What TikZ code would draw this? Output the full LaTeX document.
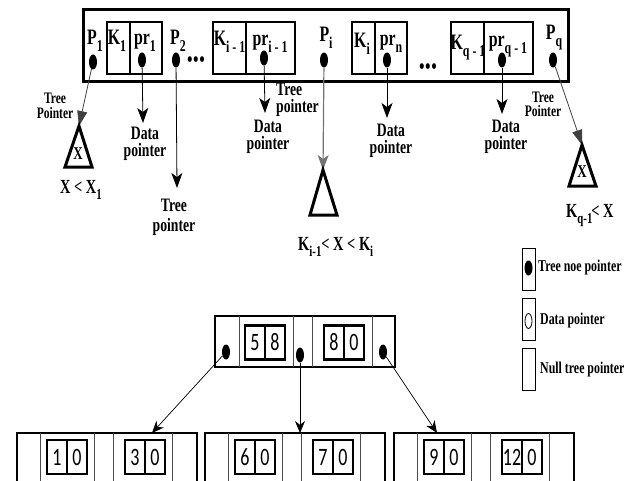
\documentclass[tikz,border=0pt]{standalone}
\usepackage{fontspec}
\setmainfont{Liberation Serif}[FakeStretch=0.72]
\newfontfamily\digitfont{Carlito}[FakeStretch=0.72]
\usetikzlibrary{positioning,arrows.meta,shapes.geometric}
\newcommand{\lowidx}[1]{\raisebox{-0.3em}{\scalebox{0.75}{#1}}}
\tikzset{
  nodeframe/.style={draw, line width=3pt, inner sep=0pt},
  keycell/.style={draw, line width=2.4pt, inner sep=0pt, minimum height=52pt},
  ptrdot/.style={ellipse, fill=black, inner sep=0pt, minimum width=8pt, minimum height=15pt},
  keylabel/.style={font=\fontsize{22}{24}\selectfont\bfseries, inner sep=0pt, anchor=base},
  notelabel/.style={font=\fontsize{19}{17}\selectfont\bfseries, align=center, inner sep=0pt},
  smalllabel/.style={font=\fontsize{16}{14.5}\selectfont\bfseries, align=center, inner sep=0pt},
  treelink/.style={draw=black!75, line width=0.8pt, -{Triangle[length=15pt,width=10pt]}},
  datalink/.style={line width=0.8pt, -{Stealth[length=15pt,width=11pt,inset=4pt]}},
  subtree/.style={line width=3pt, line join=miter},
  framebox/.style={draw, line width=2.5pt, inner sep=0pt},
  celldiv/.style={draw=black!70, line width=0.8pt},
  digitcell/.style={draw, line width=2.2pt, inner sep=0pt, minimum width=20pt, minimum height=34pt, font=\digitfont\fontsize{25}{25}\selectfont},
  legendbox/.style={draw, line width=1pt, inner sep=0pt, minimum width=13pt, minimum height=42pt},
  legendlabel/.style={font=\fontsize{16.5}{16.5}\selectfont\bfseries, inner sep=0pt, anchor=base west}
}
\begin{document}
\begin{tikzpicture}[x=1pt, y=-1pt]
\useasboundingbox (0,0) rectangle (636,481);
\clip (0,0) rectangle (636,481);

% general B-tree node
\node[nodeframe, minimum width=485pt, minimum height=72pt] (upper) at (325.5,46) {};
\node[keycell, minimum width=23pt] (ck1) at (118.5,48) {};
\node[keycell, minimum width=32pt] (cpr1) at (146,48) {};
\node[keycell, minimum width=33pt] (ckim) at (229.5,48) {};
\node[keycell, minimum width=49pt] (cprim) at (270.5,48) {};
\node[keycell, minimum width=23pt] (cki) at (363.5,48) {};
\node[keycell, minimum width=32pt] (cprn) at (391,48) {};
\node[keycell, minimum width=33pt] (ckq) at (467.5,48) {};
\node[keycell, minimum width=49pt] (cprq) at (508.5,48) {};

\node[keylabel] (lp1) at (95,45) {P\lowidx{1}};
\node[keylabel] (lk1) at (117,45) {K\lowidx{1}};
\node[keylabel] (lpr1) at (145,45) {pr\lowidx{1}};
\node[keylabel] (lp2) at (178,45) {P\lowidx{2}};
\node[keylabel] (lkim) at (229.5,46) {K\lowidx{i - 1}};
\node[keylabel] (lprim) at (270,46) {pr\lowidx{i - 1}};
\node[keylabel] (lpi) at (326,42) {P\lowidx{i}};
\node[keylabel] (lki) at (362,48) {K\lowidx{i}};
\node[keylabel] (lprn) at (391,46) {pr\lowidx{n}};
\node[keylabel] (lkq) at (468,50) {K\lowidx{q - 1}};
\node[keylabel] (lprq) at (508,47) {pr\lowidx{q - 1}};
\node[keylabel] (lpq) at (554,40) {P\lowidx{q}};
\node[font=\fontsize{24}{24}\selectfont, inner sep=0pt] (gap1) at (196,62) {\textbullet\textbullet\textbullet};
\node[font=\fontsize{24}{24}\selectfont, inner sep=0pt] (gap2) at (428,69) {\textbullet\textbullet\textbullet};

\node[ptrdot] (dp1) at (93,62) {};
\node[ptrdot] (dpr1) at (142,60) {};
\node[ptrdot] (dp2) at (176,60) {};
\node[ptrdot] (dprim) at (264,58) {};
\node[ptrdot] (dpi) at (324,60) {};
\node[ptrdot] (dprn) at (387,60) {};
\node[ptrdot] (dprq) at (502,60) {};
\node[ptrdot] (dpq) at (553,60) {};

% where the pointers go
\coordinate (t1) at (79,126);
\coordinate (tpr1) at (143,123);
\coordinate (tp2) at (177,188);
\coordinate (tprim) at (265,113);
\coordinate (ti) at (323,170);
\coordinate (tprn) at (387,118);
\coordinate (tprq) at (502,114);
\coordinate (tq) at (582,145);

\draw[treelink] (dp1) -- (t1);
\draw[datalink] (dpr1) -- (tpr1);
\draw[datalink] (dp2) -- (tp2);
\draw[datalink] (dprim) -- (tprim);
\draw[datalink, draw=black!55, line width=1.2pt] (dpi) -- (ti);
\draw[datalink] (dprn) -- (tprn);
\draw[datalink] (dprq) -- (tprq);
\draw[treelink] (dpq) -- (tq);

\draw[subtree] (t1) -- (65,167) -- (92,167) -- cycle;
\draw[subtree] (ti) -- (310,215) -- (337,215) -- cycle;
\draw[subtree] (tq) -- (569,186) -- (596,186) -- cycle;
\node[font=\fontsize{18}{18}\selectfont\bfseries] (x1) at (78,154) {X};
\node[font=\fontsize{18}{18}\selectfont\bfseries] (xq) at (582,172) {X};

\node[smalllabel] (n1) at (55,106) {Tree\\Pointer};
\node[notelabel] (npr1) at (145,144) {Data\\pointer};
\node[notelabel] (np2) at (174,217) {Tree\\[3pt]pointer};
\node[notelabel] (nprim) at (268,137) {Data\\pointer};
\node[notelabel, align=left, anchor=west] (npi) at (276,100) {Tree\\pointer};
\node[notelabel] (nprn) at (391,141) {Data\\pointer};
\node[notelabel] (nprq) at (506,137) {Data\\pointer};
\node[smalllabel] (nq) at (543,104.5) {Tree\\Pointer};

\node[keylabel, anchor=base west, font=\fontsize{20}{20}\selectfont\bfseries] (r1) at (60,193) {X < X\lowidx{1}};
\node[keylabel, anchor=base west, font=\fontsize{20}{20}\selectfont\bfseries] (ri) at (298,250) {K\lowidx{i-1}< X < K\lowidx{i}};
\node[keylabel, anchor=base west, font=\fontsize{20}{20}\selectfont\bfseries] (rq) at (566,217) {K\lowidx{q-1}\kern-1pt< X};

% legend
\node[legendbox] (leg1) at (528.5,269) {};
\node[legendbox] (leg2) at (528.5,319) {};
\node[legendbox] (leg3) at (528.5,369) {};
\node[ptrdot] (legdot) at (528.5,268) {};
\node[ellipse, draw, line width=0.8pt, inner sep=0pt, minimum width=7pt, minimum height=15pt] (legring) at (528.5,321) {};
\node[legendlabel] (legt1) at (538,271) {Tree noe pointer};
\node[legendlabel] (legt2) at (540,324) {Data pointer};
\node[legendlabel] (legt3) at (540,373) {Null tree pointer};

% example tree
\node[framebox, minimum width=180pt, minimum height=51pt] (root) at (305,341.5) {};
\foreach \xd in {239,293,312,372} \draw[celldiv] (\xd,316) -- (\xd,367);
\node[digitcell] (r5) at (255,342.5) {5};
\node[digitcell] (r8) at (275,342.5) {8};
\node[digitcell] (r80) at (334,342.5) {8};
\node[digitcell] (r0) at (354,342.5) {0};
\node[ptrdot] (rd1) at (226,352) {};
\node[ptrdot] (rd2) at (300,355) {};
\node[ptrdot] (rd3) at (383,352) {};

\foreach \dx/\da/\db/\dc/\dd [count=\n] in {0/1/0/3/0, 188/6/0/7/0, 377/9/0/12/0} {
  \node[framebox, minimum width=180pt, minimum height=70pt] (leaf\n) at (107+\dx,468) {};
  \foreach \xd in {40,94,113,172} \draw[celldiv] (\xd+\dx,433) -- (\xd+\dx,503);
  \node[digitcell] (leaf\n a) at (57+\dx,457) {\da};
  \node[digitcell] (leaf\n b) at (77+\dx,457) {\db};
  \node[digitcell] (leaf\n c) at (135+\dx,457) {\dc};
  \node[digitcell] (leaf\n d) at (155+\dx,457) {\dd};
}
\coordinate (in1) at (152,433);
\coordinate (in2) at (300,433);
\coordinate (in3) at (437,433);
\draw[line width=0.7pt, -{Stealth[length=12pt,width=10pt]}] (rd1) -- (in1);
\draw[line width=0.7pt, -{Stealth[length=12pt,width=10pt]}] (rd2) -- (in2);
\draw[line width=0.7pt, -{Stealth[length=12pt,width=10pt]}] (rd3) -- (in3);
\end{tikzpicture}
\end{document}
